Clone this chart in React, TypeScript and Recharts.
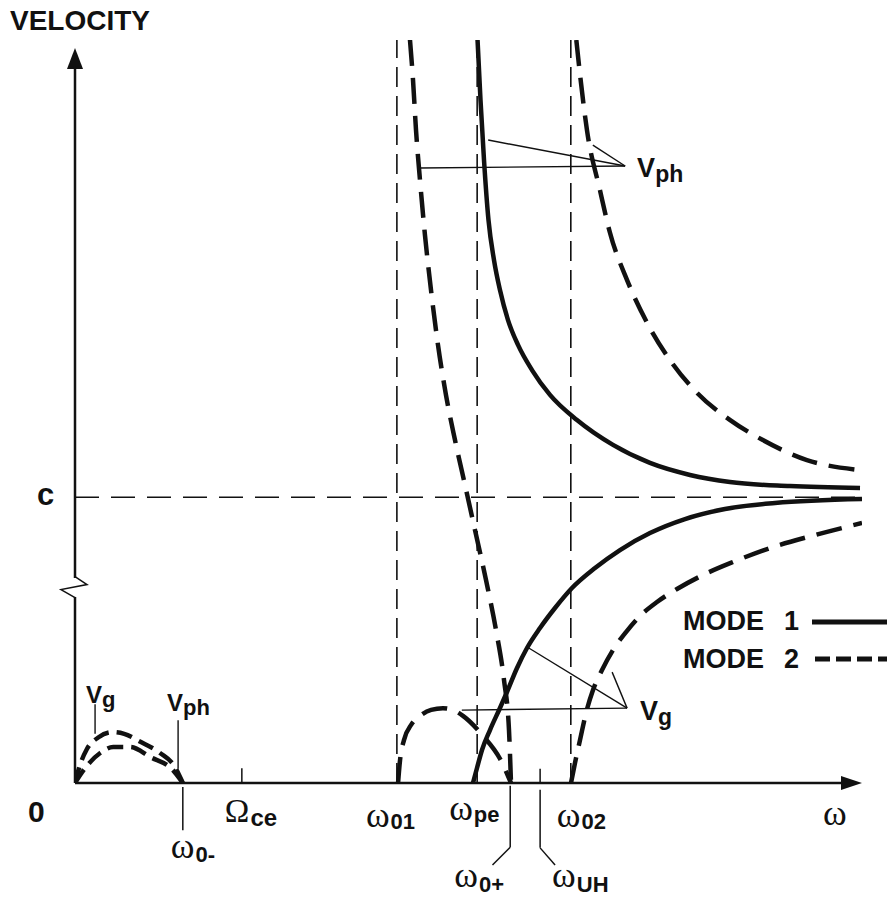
import { LineChart, Line, XAxis, YAxis, ReferenceLine, ReferenceDot } from "recharts";

const W = 887;
const H = 899;
const INK = "#111";
const SANS = "'Liberation Sans', Arial, sans-serif";
const SERIF = "'Liberation Serif', 'Times New Roman', serif";

// frequency axis (arbitrary units, axis runs 0..2)
const W0_MINUS = 0.274;
const OMEGA_CE = 0.424;
const W01 = 0.818;
const WPE = 1.022;
const W0_PLUS = 1.106;
const WUH = 1.182;
const W02 = 1.26;
const W_MAX = 2;

// velocity axis, in units of c
const C = 1;
const V_TOP = 2.6;

// axis labels: base glyph + subscript
const markKeys = ["zero", "w0m", "wce", "w01", "wpe", "w0p", "wuh", "w02", "w"];
const markX = [0, W0_MINUS, OMEGA_CE, W01, WPE, W0_PLUS, WUH, W02, W_MAX];
const markBase = ["0", "ω", "Ω", "ω", "ω", "ω", "ω", "ω", "ω"];
const markSub = ["", "0-", "ce", "01", "pe", "0+", "UH", "02", ""];

// curves [ω, v/c]
const mode1Vph = [
  [1.023, 2.6], [1.0305, 2.39], [1.0394, 2.18], [1.0508, 1.97], [1.0648, 1.83], [1.08, 1.725],
  [1.1004, 1.62], [1.1258, 1.533], [1.1614, 1.445], [1.2071, 1.358], [1.2757, 1.27],
  [1.3672, 1.183], [1.4612, 1.12], [1.5629, 1.078], [1.6645, 1.053], [1.817, 1.039], [1.995, 1.032],
];
const mode1Vg = [
  [1.0114, 0], [1.0216, 0.0525], [1.0343, 0.1155], [1.0546, 0.1854], [1.08, 0.2624],
  [1.0978, 0.3184], [1.1233, 0.4024], [1.1487, 0.4724], [1.1817, 0.5423], [1.2198, 0.6123],
  [1.263, 0.6823], [1.3215, 0.7523], [1.385, 0.8153], [1.4612, 0.8747], [1.5502, 0.9237],
  [1.6518, 0.9587], [1.7789, 0.9797], [2.0, 0.9937],
];
const mode2VphLow = [
  [0.8513, 2.6], [0.859, 2.46], [0.8666, 2.285], [0.8767, 2.11], [0.8894, 1.917], [0.9047, 1.725],
  [0.9225, 1.5325], [0.9428, 1.3576], [0.9657, 1.2], [0.9911, 1.0427], [1.0165, 0.8852],
  [1.0445, 0.7103], [1.0699, 0.5353], [1.0902, 0.3604], [1.1029, 0.1854], [1.108, 0],
];
const mode2VgLow = [
  [0.821, 0], [0.826, 0.08], [0.836, 0.15], [0.855, 0.205], [0.877, 0.235], [0.905, 0.256],
  [0.935, 0.262], [0.962, 0.255], [0.986, 0.235], [1.037, 0.165], [1.08, 0.085], [1.108, 0],
];
const mode2Vph = [
  [1.274, 2.6], [1.283, 2.484], [1.301, 2.285], [1.334, 2.075], [1.359, 1.928], [1.403, 1.76],
  [1.454, 1.61], [1.512, 1.48], [1.581, 1.365], [1.665, 1.27], [1.748, 1.2], [1.86, 1.13],
  [1.995, 1.095],
];
const mode2Vg = [
  [1.2605, 0], [1.2706, 0.07], [1.2834, 0.1505], [1.2986, 0.2449], [1.3164, 0.3254],
  [1.3393, 0.3954], [1.3672, 0.4654], [1.4003, 0.5283], [1.4358, 0.5843], [1.479, 0.6333],
  [1.5299, 0.6788], [1.5959, 0.7278], [1.6722, 0.7733], [1.7662, 0.8222], [1.8806, 0.8677],
  [2.0, 0.9097],
];
const lowVg = [
  [0, 0], [0.012, 0.06], [0.03, 0.118], [0.06, 0.16], [0.095, 0.178], [0.125, 0.172],
  [0.165, 0.145], [0.216, 0.105], [0.252, 0.06], [W0_MINUS, 0],
];
const lowVph = [
  [0, 0], [0.018, 0.038], [0.064, 0.105], [0.097, 0.126], [0.14, 0.126], [0.191, 0.091],
  [0.249, 0.045], [W0_MINUS, 0],
];

// annotation pointers
const vphTip = [1.398, 2.159];
const vphFrom = [[0.877, 2.152], [1.05, 2.25], [1.316, 2.232]];
const vgTip = [1.403, 0.262];
const vgFrom = [[0.983, 0.255], [1.149, 0.476], [1.365, 0.388]];

const toPts = (a: number[][]) => a.map(([x, y]) => ({ x, y }));

// label placement in px relative to anchor
const markPos: Record<string, any> = {
  zero: { dx: -47, dy: 39, size: 30, subSize: 0 },
  w0m: { dx: -12, dy: 75, size: 36, subSize: 22, subDy: 4 },
  wce: { dx: -17, dy: 39, size: 33, subSize: 24, subDy: 4 },
  w01: { dx: -31, dy: 44, size: 36, subSize: 22, subDy: 2 },
  wpe: { dx: -28, dy: 37, size: 36, subSize: 22, subDy: 2 },
  w0p: { dx: -56, dy: 104, size: 36, subSize: 22, subDy: 5 },
  wuh: { dx: 12, dy: 104, size: 36, subSize: 22, subDy: 5 },
  w02: { dx: -14, dy: 44, size: 36, subSize: 22, subDy: 2 },
  w: { dx: -39, dy: 42, size: 36, subSize: 0 },
};

function markShape(i: number) {
  const p = markPos[markKeys[i]];
  const base = markBase[i];
  const serif = base !== "0";
  return (props: any) => (
    <text x={props.cx + p.dx} y={props.cy + p.dy} fill={INK}>
      <tspan
        fontFamily={serif ? SERIF : SANS}
        fontWeight={serif ? "normal" : "bold"}
        fontSize={p.size}
      >
        {base}
      </tspan>
      {markSub[i] ? (
        <tspan fontFamily={SANS} fontWeight="bold" fontSize={p.subSize} dx={1} dy={p.subDy}>
          {markSub[i]}
        </tspan>
      ) : null}
    </text>
  );
}

function vLabel(sub: string, dx: number, dy: number, size: number, subSize: number, subDy: number) {
  return (props: any) => (
    <text x={props.cx + dx} y={props.cy + dy} fill={INK} fontFamily={SANS} fontWeight="bold">
      <tspan fontSize={size}>V</tspan>
      <tspan fontSize={subSize} dy={subDy}>{sub}</tspan>
    </text>
  );
}

const upArrow = (p: any) => (
  <polygon points={`${p.cx},${p.cy} ${p.cx - 8},${p.cy + 21} ${p.cx + 8},${p.cy + 21}`} fill={INK} />
);
const rightArrow = (p: any) => (
  <polygon points={`${p.cx},${p.cy} ${p.cx - 21},${p.cy - 7} ${p.cx - 21},${p.cy + 7}`} fill={INK} />
);
const axisBreak = (p: any) => (
  <polyline
    points={`${p.cx},${p.cy - 11} ${p.cx + 12},${p.cy - 3} ${p.cx - 14},${p.cy + 2} ${p.cx},${p.cy + 10}`}
    fill="none"
    stroke={INK}
    strokeWidth={1.5}
  />
);

const dashed = "26 12";
const thinDash = "20 9";

export default function App() {
  const curve = (data: number[][], dash?: string, width = 4.5) => (
    <Line
      data={toPts(data)}
      dataKey="y"
      type="monotone"
      stroke={INK}
      strokeWidth={width}
      strokeDasharray={dash}
      dot={false}
      activeDot={false}
      isAnimationActive={false}
    />
  );

  return (
    <div style={{ position: "absolute", left: 0, top: 0, width: W, height: H, background: "#fff" }}>
      <LineChart width={W} height={H} margin={{ top: 40, right: 25, bottom: 116, left: 75 }}>
        <XAxis type="number" dataKey="x" domain={[0, W_MAX]} allowDataOverflow hide />
        <YAxis type="number" dataKey="y" domain={[0, V_TOP]} allowDataOverflow hide />

        {/* guide lines */}
        <ReferenceLine y={C} stroke={INK} strokeWidth={1.6} strokeDasharray="24 12" />
        {[W01, WPE, W02].map((w) => (
          <ReferenceLine key={w} x={w} stroke={INK} strokeWidth={1.6} strokeDasharray={thinDash} />
        ))}

        {/* axes */}
        <ReferenceLine segment={[{ x: 0, y: 0 }, { x: 1.97, y: 0 }]} stroke={INK} strokeWidth={2.5} ifOverflow="visible" />
        <ReferenceLine segment={[{ x: 0, y: 0 }, { x: 0, y: 0.651 }]} stroke={INK} strokeWidth={2.5} ifOverflow="visible" />
        <ReferenceLine segment={[{ x: 0, y: 0.717 }, { x: 0, y: 2.52 }]} stroke={INK} strokeWidth={2.5} ifOverflow="visible" />
        <ReferenceDot x={0} y={2.572} r={0} shape={upArrow} ifOverflow="visible" />
        <ReferenceDot x={W_MAX} y={0} r={0} shape={rightArrow} ifOverflow="visible" />
        <ReferenceDot x={0} y={0.684} r={0} shape={axisBreak} ifOverflow="visible" />

        {/* ticks and leaders on the ω axis */}
        <ReferenceLine segment={[{ x: OMEGA_CE, y: 0 }, { x: OMEGA_CE, y: 0.052 }]} stroke={INK} strokeWidth={1.5} ifOverflow="visible" />
        <ReferenceLine segment={[{ x: WUH, y: 0 }, { x: WUH, y: 0.05 }]} stroke={INK} strokeWidth={1.5} ifOverflow="visible" />
        <ReferenceLine segment={[{ x: W0_MINUS, y: -0.014 }, { x: W0_MINUS, y: -0.165 }]} stroke={INK} strokeWidth={1.5} ifOverflow="visible" />
        <ReferenceLine segment={[{ x: W0_PLUS, y: -0.01 }, { x: W0_PLUS, y: -0.225 }]} stroke={INK} strokeWidth={1.5} ifOverflow="visible" />
        <ReferenceLine segment={[{ x: W0_PLUS, y: -0.225 }, { x: W0_PLUS - 0.045, y: -0.287 }]} stroke={INK} strokeWidth={1.5} ifOverflow="visible" />
        <ReferenceLine segment={[{ x: WUH, y: -0.024 }, { x: WUH, y: -0.227 }]} stroke={INK} strokeWidth={1.5} ifOverflow="visible" />
        <ReferenceLine segment={[{ x: WUH, y: -0.227 }, { x: WUH + 0.038, y: -0.287 }]} stroke={INK} strokeWidth={1.5} ifOverflow="visible" />

        {/* pointers to curve labels */}
        {vphFrom.map(([x, y], i) => (
          <ReferenceLine key={"p" + i} segment={[{ x, y }, { x: vphTip[0], y: vphTip[1] }]} stroke={INK} strokeWidth={1.4} ifOverflow="visible" />
        ))}
        {vgFrom.map(([x, y], i) => (
          <ReferenceLine key={"g" + i} segment={[{ x, y }, { x: vgTip[0], y: vgTip[1] }]} stroke={INK} strokeWidth={1.4} ifOverflow="visible" />
        ))}
        <ReferenceLine segment={[{ x: 0.051, y: 0.276 }, { x: 0.051, y: 0.172 }]} stroke={INK} strokeWidth={1.4} ifOverflow="visible" />
        <ReferenceLine segment={[{ x: 0.262, y: 0.22 }, { x: 0.262, y: 0.05 }]} stroke={INK} strokeWidth={1.4} ifOverflow="visible" />

        {/* curves */}
        {curve(lowVg, "16 8", 4.5)}
        {curve(lowVph, "16 8", 4.5)}
        {curve(mode2VgLow, dashed)}
        {curve(mode2VphLow, dashed)}
        {curve(mode1Vph)}
        {curve(mode1Vg)}
        {curve(mode2Vph, dashed)}
        {curve(mode2Vg, dashed)}

        {/* labels */}
        {markX.map((x, i) => (
          <ReferenceDot key={markKeys[i]} x={x} y={0} r={0} shape={markShape(i)} ifOverflow="visible" />
        ))}
        <ReferenceDot x={vphTip[0]} y={vphTip[1]} r={0} shape={vLabel("ph", 12, 11, 27, 23, 5)} ifOverflow="visible" />
        <ReferenceDot x={vgTip[0]} y={vgTip[1]} r={0} shape={vLabel("g", 13, 12, 27, 23, 5)} ifOverflow="visible" />
        <ReferenceDot x={0.051} y={0.283} r={0} shape={vLabel("g", -9, 1, 24, 22, 4)} ifOverflow="visible" />
        <ReferenceDot x={0.262} y={0.22} r={0} shape={vLabel("ph", -11, -9, 24, 22, 4)} ifOverflow="visible" />
        <ReferenceDot x={0} y={C} r={0} shape={(p: any) => (
          <text x={p.cx - 38} y={p.cy + 8} fontFamily={SANS} fontWeight="bold" fontSize={31} fill={INK}>c</text>
        )} ifOverflow="visible" />
      </LineChart>

      <svg width={W} height={H} style={{ position: "absolute", left: 0, top: 0, pointerEvents: "none" }}>
        <text x={10} y={30} fontFamily={SANS} fontWeight="bold" fontSize={28} fill={INK}>VELOCITY</text>
        <g fontFamily={SANS} fontWeight="bold" fontSize={27} fill={INK}>
          <text x={683} y={630}>MODE</text>
          <text x={784} y={630}>1</text>
          <text x={683} y={668}>MODE</text>
          <text x={784} y={668}>2</text>
        </g>
        <line x1={812} x2={887} y1={622} y2={622} stroke={INK} strokeWidth={5} />
        <line x1={815} x2={887} y1={659} y2={659} stroke={INK} strokeWidth={5} strokeDasharray="15 6" />
      </svg>
    </div>
  );
}
